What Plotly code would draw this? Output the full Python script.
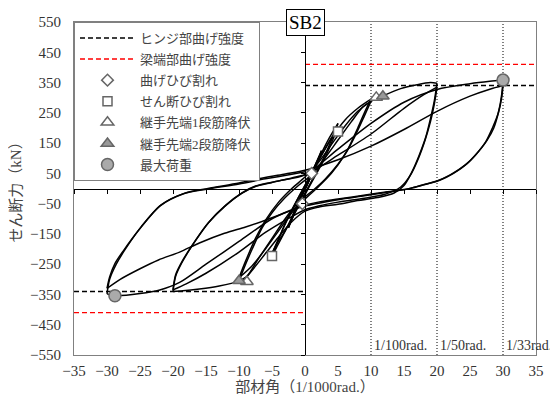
import plotly.graph_objects as go

# ---------------- data (drift: 1/1000 rad, shear: kN) ----------------
drift_800 = [0, 0.5, 1.0, 1.3, 0.9, 0.3, -0.3, -0.9, -1.3, -0.9, -0.3, 0.3, 0.9, 1.25, 0.8, 0.2, -0.4, -0.9, -1.25]
shear_800 = [0, 24, 50, 60, 40, 12, -14, -40, -60, -38, -10, 15, 42, 58, 36, 8, -20, -42, -58]

drift_400 = [-0.8, 0, 1.0, 1.8, 2.5, 2.0, 1.2, 0.3, -0.6, -1.6, -2.5, -2.0, -1.2, -0.3, 0.6, 1.6, 2.5,
             1.9, 1.0, 0, -1.0, -1.8, -2.5]
shear_400 = [-35, 2, 50, 90, 125, 95, 55, 10, -30, -80, -130, -100, -60, -15, 30, 80, 120,
             88, 45, 0, -50, -92, -125]

drift_200 = [-1.8, -0.8, 0.5, 2.0, 3.5, 5.0, 4.2, 3.0, 1.5, 0, -1.5, -3.0, -4.2, -5.0,
             -4.2, -3.0, -1.5, 0, 1.5, 3.0, 4.2, 5.0, 4.2, 3.0, 1.5, 0, -1.5, -3.0, -4.2, -5.0]
shear_200 = [-85, -35, 25, 95, 160, 215, 170, 110, 45, -15, -75, -140, -190, -225,
             -180, -115, -50, 10, 70, 130, 175, 205, 160, 100, 40, -20, -80, -140, -180, -215]

drift_100 = [-4.0, -2.5, -1.0, 0.5, 2.0, 4.0, 6.0, 8.0, 10.0,
             9.0, 8.0, 6.5, 5.0, 3.0, 1.0, -1.0, -3.0, -5.0, -7.0, -8.8, -10.0,
             -9.0, -8.0, -6.5, -5.0, -3.0, -1.0, 1.0, 3.0, 5.0, 7.0, 8.8, 10.0,
             9.0, 7.5, 6.0, 4.0, 2.0, 0, -2.0, -4.0, -6.0, -8.0, -10.0]
shear_100 = [-165, -95, -30, 30, 90, 165, 225, 265, 295,
             250, 200, 130, 80, 30, -10, -45, -100, -165, -230, -290, -305,
             -250, -200, -130, -80, -30, 10, 45, 100, 160, 220, 270, 288,
             240, 170, 110, 50, 5, -35, -80, -140, -200, -255, -295]

drift_50 = [-9.0, -7.5, -6.0, -4.0, -2.0, 0, 2.0, 4.0, 6.0, 8.0, 10.0, 11.5, 14.5, 17.0, 19.0, 20.0,
            19.6, 19.0, 18.3, 17.3, 16.2, 15.0, 13.5, 11.0, 8.0, 5.0, 2.0, 0, -2.0, -4.0, -6.0, -8.0,
            -9.0, -10.0, -13.0, -16.0, -18.5, -20.0,
            -19.6, -18.7, -17.2, -14.7, -12.2, -9.6, -7.6, -5.0, -2.0, 0.5, 5.0, 10.0, 15.0, 18.0, 20.0,
            19.6, 19.0, 18.2, 17.2, 16.0, 14.5, 12.0, 9.0, 5.0, 2.0, 0, -3.0, -6.0, -10.0, -15.0, -18.0, -20.0,
            -19.6, -18.6, -17.0, -14.6, -12.0, -9.5, -7.5, -4.0, 0]
shear_50 = [-240, -165, -105, -45, 0, 38, 85, 145, 205, 255, 288, 303, 330, 343, 350, 348,
            290, 230, 170, 110, 55, 10, -15, -30, -40, -52, -62, -75, -110, -160, -215, -270,
            -295, -306, -322, -332, -338, -340,
            -290, -247, -192, -115, -60, -16, 6, 20, 35, 50, 110, 180, 265, 310, 335,
            280, 220, 160, 100, 45, 5, -20, -32, -45, -58, -70, -105, -145, -210, -280, -315, -335,
            -285, -240, -185, -112, -55, -14, 8, 25, 45]

drift_33 = [5.0, 10.0, 15.0, 20.0, 25.0, 28.0, 30.0,
            29.8, 29.4, 28.6, 27.6, 26.0, 24.6, 22.5, 20.5, 18.0, 15.9, 12.0, 9.4, 5.0, 2.0, 0,
            -2.0, -5.0, -10.0, -15.0, -19.0, -22.0, -25.0, -28.8, -30.0,
            -29.6, -28.6, -27.3, -24.8, -21.8, -18.3, -14.7, -10.0, -6.6, -3.0, 0,
            5.0, 10.0, 15.0, 20.0, 25.0, 28.0, 30.0,
            29.8, 29.3, 28.4, 27.4, 25.8, 24.3, 22.0, 20.0, 17.5, 15.5, 12.0, 9.0, 5.0, 0,
            -3.0, -6.0, -9.0, -12.2, -16.0, -19.0, -22.2, -25.0, -28.0, -30.0,
            -29.6, -28.8, -27.5, -25.0, -22.0, -18.5, -14.8, -10.0, -6.0, -2.0, 0]
shear_33 = [130, 215, 285, 327, 346, 354, 358,
            310, 260, 200, 160, 115, 83, 50, 28, 12, 0, -12, -21, -35, -45, -55,
            -70, -100, -175, -250, -310, -335, -347, -354, -348,
            -300, -250, -203, -126, -54, -16, 0, 18, 34, 48, 60,
            95, 140, 195, 255, 305, 328, 340,
            300, 250, 200, 155, 110, 78, 45, 25, 10, -2, -14, -24, -37, -58,
            -80, -105, -127, -148, -180, -210, -236, -265, -300, -330,
            -292, -248, -205, -132, -58, -18, -2, 15, 32, 47, 55]

# strengths
hinge_strength = 340
beam_end_strength = 410
rad_drifts = [10, 20, 30]
rad_labels = ["1/100rad.", "1/50rad.", "1/33rad."]

# events
flex_crack_x, flex_crack_y = [1.0, -0.4], [50, -50]
shear_crack_x, shear_crack_y = [5.0, -5.0], [188, -223]
yield1_x, yield1_y = [10.8, -8.8], [301, -308]
yield2_x, yield2_y = [11.8, -10.0], [305, -305]
maxload_x, maxload_y = [30.0, -28.8], [358, -354]

x_ticks = list(range(-35, 36, 5))
y_ticks = list(range(-550, 551, 100))

# ---------------- figure ----------------
fig = go.Figure()

path_x = drift_800 + drift_400 + drift_200 + drift_100 + drift_50 + drift_33
path_y = shear_800 + shear_400 + shear_200 + shear_100 + shear_50 + shear_33

# split the path into branches at load reversals
branches = []
cur_x, cur_y = [path_x[0]], [path_y[0]]
direction = 0
for i in range(1, len(path_x)):
    dx = path_x[i] - path_x[i - 1]
    d = 1 if dx > 0 else (-1 if dx < 0 else direction)
    if direction != 0 and d != direction:
        branches.append((cur_x, cur_y))
        cur_x, cur_y = [path_x[i - 1]], [path_y[i - 1]]
    cur_x.append(path_x[i])
    cur_y.append(path_y[i])
    direction = d
branches.append((cur_x, cur_y))

for bx, by in branches:
    fig.add_trace(go.Scatter(x=bx, y=by, mode="lines",
                             line=dict(color="black", width=1.5, shape="spline", smoothing=0.8),
                             showlegend=False, hoverinfo="skip"))

for v in rad_drifts:
    fig.add_trace(go.Scatter(x=[v, v], y=[-550, 550], mode="lines",
                             line=dict(color="black", width=1, dash="1px,2px"),
                             showlegend=False, hoverinfo="skip"))

fig.add_trace(go.Scatter(x=[0, 35, None, -35, 0],
                         y=[hinge_strength, hinge_strength, None, -hinge_strength, -hinge_strength],
                         mode="lines", line=dict(color="black", width=1.4, dash="5px,3px"),
                         name="ヒンジ部曲げ強度", legendgroup="a"))
fig.add_trace(go.Scatter(x=[0, 35, None, -35, 0],
                         y=[beam_end_strength, beam_end_strength, None, -beam_end_strength, -beam_end_strength],
                         mode="lines", line=dict(color="red", width=1.4, dash="5px,3px"),
                         name="梁端部曲げ強度", legendgroup="b"))

mk_edge = "#666666"
fig.add_trace(go.Scatter(x=flex_crack_x, y=flex_crack_y, mode="markers", name="曲げひび割れ",
                         legendgroup="c",
                         marker=dict(symbol="diamond", size=9, color="white", line=dict(color=mk_edge, width=1.5))))
fig.add_trace(go.Scatter(x=shear_crack_x, y=shear_crack_y, mode="markers", name="せん断ひび割れ",
                         legendgroup="d",
                         marker=dict(symbol="square", size=9, color="white", line=dict(color=mk_edge, width=1.5))))
fig.add_trace(go.Scatter(x=yield1_x, y=yield1_y, mode="markers", name="継手先端1段筋降伏\u00a0",
                         legendgroup="e",
                         marker=dict(symbol="triangle-up", size=11, color="white", line=dict(color=mk_edge, width=1.5))))
fig.add_trace(go.Scatter(x=yield2_x, y=yield2_y, mode="markers", name="継手先端2段筋降伏",
                         legendgroup="f",
                         marker=dict(symbol="triangle-up", size=11, color="#999999", line=dict(color=mk_edge, width=1.5))))
fig.add_trace(go.Scatter(x=maxload_x, y=maxload_y, mode="markers", name="最大荷重",
                         legendgroup="g",
                         marker=dict(symbol="circle", size=12, color="#aaaaaa", line=dict(color=mk_edge, width=1.5))))

# dummy trace for the crossing axes
fig.add_trace(go.Scatter(x=[None], y=[None], xaxis="x2", yaxis="y2", showlegend=False, hoverinfo="skip"))

for v, lab in zip(rad_drifts, rad_labels):
    fig.add_annotation(x=v, y=-517, xref="x", yref="y", text=lab, showarrow=False,
                       xanchor="left", yanchor="middle", xshift=1,
                       font=dict(family="Liberation Serif", size=14, color="#333333"))

fig.add_annotation(x=0, y=550, xref="x", yref="y", text="SB2", showarrow=False,
                   xanchor="center", yanchor="middle",
                   font=dict(family="Liberation Serif", size=19, color="black"),
                   bgcolor="white", bordercolor="black", borderwidth=1, borderpad=2)

mixfont = "Liberation Serif, Noto Sans CJK JP"
tickfont = dict(family="Liberation Serif", size=15, color="#333333")
fig.update_layout(
    width=550, height=393,
    margin=dict(l=66, r=22, t=14, b=46, autoexpand=False),
    paper_bgcolor="white", plot_bgcolor="white",
    font=dict(family=mixfont, color="#444444"),
    xaxis=dict(range=[-35, 35], tickvals=x_ticks, ticks="", showgrid=False, zeroline=False,
               showline=True, linecolor="#808080", linewidth=1, mirror=True, automargin=False,
               tickfont=tickfont, ticklabelstandoff=2,
               title=dict(text="部材角（1/1000rad.）", standoff=0,
                          font=dict(family=mixfont, size=15, color="#444444"))),
    yaxis=dict(range=[-550, 550], tickvals=y_ticks, ticks="", showgrid=False, zeroline=False,
               showline=True, linecolor="#808080", linewidth=1, mirror=True, automargin=False,
               tickfont=tickfont, ticklabelstandoff=9,
               title=dict(text="せん断力（kN）", standoff=6,
                          font=dict(family=mixfont, size=15, color="#444444"))),
    xaxis2=dict(overlaying="x", anchor="free", position=0.5, range=[-35, 35], tickvals=x_ticks,
                ticks="outside", ticklen=4, tickcolor="black", showticklabels=False,
                showline=True, linecolor="black", linewidth=1, showgrid=False, zeroline=False),
    yaxis2=dict(overlaying="y", anchor="free", position=0.5, range=[-550, 550], tickvals=y_ticks,
                ticks="outside", ticklen=4, tickcolor="black", showticklabels=False,
                showline=True, linecolor="black", linewidth=1, showgrid=False, zeroline=False),
    legend=dict(x=0, y=1, xanchor="left", yanchor="top", bgcolor="white",
                bordercolor="#808080", borderwidth=1, traceorder="grouped", tracegroupgap=1.2,
                itemwidth=55,
                font=dict(family=mixfont, size=13, color="#444444")),
    showlegend=True,
)

fig.write_html("out.html")
